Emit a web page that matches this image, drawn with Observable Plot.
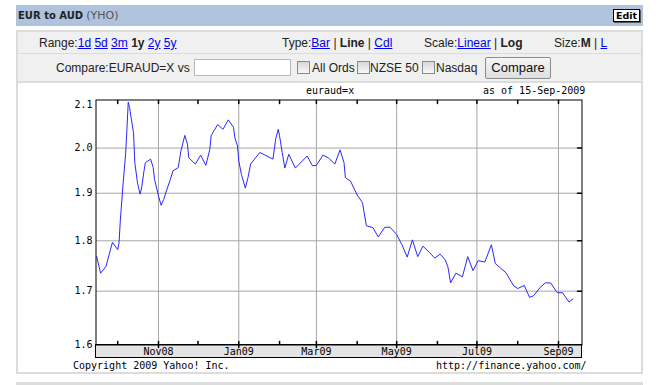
<!DOCTYPE html>
<html>
<head>
<meta charset="utf-8">
<script src="https://cdn.jsdelivr.net/npm/d3@7"></script>
<script src="https://cdn.jsdelivr.net/npm/@observablehq/plot@0.6"></script>
<style>
  html, body { margin: 0; padding: 0; background: #fff; }
  #page { position: relative; width: 658px; height: 385px; overflow: hidden; background: #fff;
          font-family: "Liberation Sans", Arial, sans-serif; font-size: 12px; color: #222; }
  .abs { position: absolute; white-space: nowrap; }
  .ctl { line-height: 14px; }
  .ctl a { color: #0000ee; text-decoration: underline; }
  .ctl b { color: #222; }
  .mono { font-family: "DejaVu Sans Mono", monospace; font-size: 10px; line-height: 12px; color: #000; }
  .cb { position: absolute; width: 11px; height: 11px; border: 1px solid #8a8a8a;
        background: linear-gradient(#d8d8d8, #f8f8f8); }
  #chart { position: absolute; left: 0; top: 84px; }
</style>
</head>
<body>
<div id="page">
  <!-- title bar -->
  <div class="abs" style="left:16px;top:5px;width:627px;height:21px;background:#b0c3dd;"></div>
  <div class="abs" style="left:18px;top:10px;font-family:'DejaVu Sans',Verdana,sans-serif;font-size:10px;line-height:12px;color:#222;">
    <b>EUR to AUD</b> <span style="color:#555;font-size:11px;">(YHO)</span>
  </div>
  <div class="abs" style="left:613px;top:9px;width:25px;height:11px;border:1px solid #000;background:#fff;box-shadow:1px 1px 0 #555;
       font-family:'DejaVu Sans',Verdana,sans-serif;font-weight:bold;font-size:9.5px;line-height:11px;text-align:center;color:#000;">Edit</div>

  <!-- control panel -->
  <div class="abs" style="left:16px;top:30px;width:623px;height:340px;border:2px solid #dcdcdc;background:#fff;"></div>
  <div class="abs" style="left:18px;top:32px;width:623px;height:21px;background:#f0f0f0;border-bottom:1px solid #dcdcdc;"></div>
  <div class="abs" style="left:18px;top:54px;width:623px;height:27px;background:#f0f0f0;border-bottom:2px solid #dcdcdc;"></div>

  <div class="abs ctl" style="left:39px;top:36px;">Range:<a>1d</a> <a>5d</a> <a>3m</a> <b>1y</b> <a>2y</a> <a>5y</a></div>
  <div class="abs ctl" style="left:282px;top:36px;">Type:<a>Bar</a> | <b>Line</b> | <a>Cdl</a></div>
  <div class="abs ctl" style="left:424px;top:36px;">Scale:<a>Linear</a> | <b>Log</b></div>
  <div class="abs ctl" style="left:554px;top:36px;">Size:<b>M</b> | <a>L</a></div>

  <div class="abs ctl" style="left:56px;top:61px;">Compare:EURAUD=X vs</div>
  <div class="abs" style="left:194px;top:59px;width:95px;height:15px;border:1px solid #b5b8c0;background:#fff;"></div>
  <div class="cb" style="left:297px;top:61px;"></div>
  <div class="abs ctl" style="left:312px;top:61px;">All Ords</div>
  <div class="cb" style="left:357px;top:61px;"></div>
  <div class="abs ctl" style="left:370px;top:61px;">NZSE 50</div>
  <div class="cb" style="left:422px;top:61px;"></div>
  <div class="abs ctl" style="left:436px;top:61px;">Nasdaq</div>
  <div class="abs" style="left:485px;top:57px;width:64px;height:20px;border:1px solid #8c8c8c;border-radius:2px;
       background:linear-gradient(#f6f6f6,#dedede);font-size:13px;line-height:20px;text-align:center;color:#111;">Compare</div>

  <!-- x-axis band -->
  <div class="abs" style="left:95px;top:344px;width:485px;height:12px;border:1px solid #000;background:#e4e4e4;"></div>

  <div id="chart"></div>

  <!-- chart texts -->
  <div class="abs mono" style="left:306px;top:85px;">euraud=x</div>
  <div class="abs mono" style="left:483px;top:85px;">as of 15-Sep-2009</div>
  <div class="abs mono" style="left:73px;top:360px;">Copyright 2009 Yahoo! Inc.</div>
  <div class="abs mono" style="left:436px;top:360px;">http://finance.yahoo.com/</div>

  <!-- next widget edge -->
  <div class="abs" style="left:16px;top:382px;width:627px;height:3px;background:#dcdcdc;"></div>
</div>

<script>
// ---- data ----
const dates = [
  "2008-09-15","2008-09-18","2008-09-22","2008-09-27","2008-10-01","2008-10-02","2008-10-03","2008-10-05",
  "2008-10-07","2008-10-08","2008-10-09","2008-10-10","2008-10-11","2008-10-13","2008-10-14","2008-10-16",
  "2008-10-18","2008-10-19","2008-10-21","2008-10-22","2008-10-26","2008-10-28","2008-10-29","2008-11-01",
  "2008-11-03","2008-11-05","2008-11-07","2008-11-10","2008-11-12","2008-11-16","2008-11-18","2008-11-21",
  "2008-11-23","2008-11-24","2008-11-29","2008-12-03","2008-12-07","2008-12-10","2008-12-11","2008-12-13",
  "2008-12-16","2008-12-20","2008-12-24","2008-12-28","2008-12-29","2008-12-31","2009-01-01","2009-01-03",
  "2009-01-06","2009-01-08","2009-01-10","2009-01-17","2009-01-27","2009-01-29","2009-01-31","2009-02-01",
  "2009-02-03","2009-02-05","2009-02-08","2009-02-13","2009-02-22","2009-02-26","2009-03-01","2009-03-06",
  "2009-03-10","2009-03-15","2009-03-19","2009-03-22","2009-03-23","2009-03-27","2009-04-01","2009-04-05",
  "2009-04-08","2009-04-13","2009-04-17","2009-04-22","2009-04-26","2009-05-01","2009-05-05","2009-05-09",
  "2009-05-13","2009-05-17","2009-05-21","2009-05-26","2009-05-30","2009-06-03","2009-06-07","2009-06-09",
  "2009-06-11","2009-06-15","2009-06-20","2009-06-24","2009-06-28","2009-07-02","2009-07-07","2009-07-12",
  "2009-07-15","2009-07-19","2009-07-23","2009-07-29","2009-08-01","2009-08-06","2009-08-10","2009-08-13",
  "2009-08-18","2009-08-22","2009-08-26","2009-08-31","2009-09-04","2009-09-09","2009-09-12"
];
const rates = [
  1.768,1.735,1.748,1.797,1.782,1.796,1.843,1.918,
  1.987,2.044,2.107,2.094,2.074,2.035,1.967,1.923,
  1.898,1.909,1.949,1.967,1.975,1.956,1.930,1.894,
  1.874,1.887,1.905,1.930,1.949,1.956,1.993,2.029,
  2.009,1.978,1.964,1.984,1.961,1.997,2.028,2.039,
  2.054,2.043,2.065,2.048,2.024,2.005,1.971,1.941,
  1.911,1.934,1.964,1.990,1.975,2.020,2.043,2.028,
  1.990,1.955,1.986,1.955,1.982,1.960,1.961,1.984,
  1.978,1.964,1.996,1.967,1.934,1.926,1.896,1.880,
  1.831,1.827,1.808,1.828,1.828,1.813,1.792,1.767,
  1.802,1.768,1.789,1.776,1.765,1.773,1.761,1.747,
  1.716,1.735,1.728,1.768,1.740,1.760,1.757,1.792,
  1.754,1.745,1.736,1.710,1.705,1.711,1.688,1.691,
  1.707,1.716,1.716,1.697,1.697,1.679,1.685
];
const yTickValues = [1.6, 1.7, 1.8, 1.9, 2.0, 2.1];
const yGridValues = [1.7, 1.8, 1.9, 2.0];
const majorMonths = ["2008-11-01","2009-01-01","2009-03-01","2009-05-01","2009-07-01","2009-09-01"];
const minorMonths = ["2008-10-01","2008-12-01","2009-02-01","2009-04-01","2009-06-01","2009-08-01"];
const xDomain = ["2008-09-14T21:00:00Z", "2009-09-18T11:30:00Z"];
const yDomain = [1.6, 2.111];

// ---- build ----
const data = dates.map((d, i) => ({date: new Date(d + "T00:00:00Z"), rate: rates[i]}));
const major = majorMonths.map(d => new Date(d + "T00:00:00Z"));
const minor = minorMonths.map(d => new Date(d + "T00:00:00Z"));
const allMonths = [...major, ...minor];
const tickShape = {draw(context, l) { context.moveTo(0, 0); context.lineTo(0, -l); }};

const chart = Plot.plot({
  width: 640,
  height: 288,
  marginLeft: 96,
  marginRight: 59,
  marginTop: 16,
  marginBottom: 28,
  style: {fontFamily: "'DejaVu Sans Mono', monospace", fontSize: "10px", background: "transparent", color: "#000", overflow: "visible"},
  x: {type: "utc", domain: xDomain.map(d => new Date(d)), axis: null, label: null},
  y: {type: "log", domain: yDomain, axis: null, label: null},
  marks: [
    Plot.gridX(major, {stroke: "#a6a6a6", strokeOpacity: 1}),
    Plot.gridY(yGridValues, {stroke: "#a6a6a6", strokeOpacity: 1}),
    Plot.line(data, {x: "date", y: "rate", stroke: "#2828ff", strokeWidth: 1}),
    Plot.frame({stroke: "#000", insetLeft: -0.5, insetTop: -0.5, insetRight: -0.5, insetBottom: -0.5}),
    Plot.vector(allMonths, {x: d => d, frameAnchor: "top", rotate: 180, length: 3, anchor: "start", shape: tickShape, stroke: "#000"}),
    Plot.vector(allMonths, {x: d => d, frameAnchor: "bottom", rotate: 0, length: 3, anchor: "start", shape: tickShape, stroke: "#000"}),
    Plot.vector(major, {x: d => d, frameAnchor: "bottom", rotate: 180, length: 3, anchor: "start", shape: tickShape, stroke: "#000"}),
    Plot.vector(yGridValues, {y: d => d, frameAnchor: "right", rotate: -90, length: 4, anchor: "start", shape: tickShape, stroke: "#000"}),
    Plot.axisX(major, {anchor: "bottom", label: null, tickSize: 0, tickPadding: 3, tickFormat: d3.utcFormat("%b%y"), fill: "#000"}),
    Plot.axisY(yTickValues, {anchor: "left", label: null, tickSize: 0, tickPadding: 4, tickFormat: d3.format(".1f"), fill: "#000"})
  ]
});
document.getElementById("chart").appendChild(chart);
</script>
</body>
</html>
